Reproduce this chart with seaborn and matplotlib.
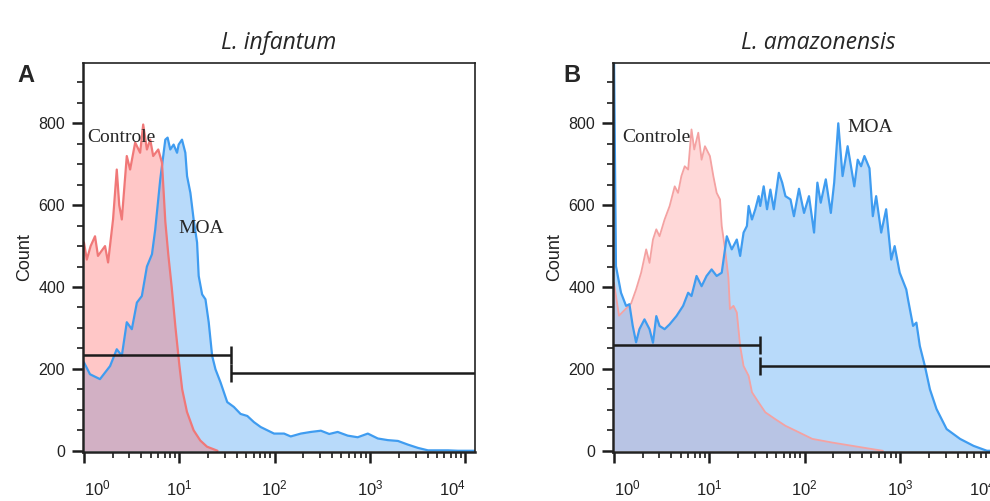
import numpy as np
import seaborn as sns
import matplotlib.pyplot as plt
from matplotlib.ticker import FixedLocator, LogLocator, MultipleLocator, NullFormatter

sns.set_style("ticks")
plt.rcParams['font.family'] = ['Liberation Sans', 'DejaVu Sans']
plt.rcParams['mathtext.default'] = 'regular'

# histograms: log10 of fluorescence intensity vs cell count
inf_ctrl_log = [0.0, 0.03, 0.07, 0.116, 0.147, 0.19, 0.221, 0.253, 0.305, 0.344, 0.37,
                0.397, 0.449, 0.484, 0.537, 0.589, 0.621, 0.66, 0.695, 0.726, 0.779,
                0.818, 0.853, 0.884, 0.92, 0.96, 1.0, 1.03, 1.08, 1.15, 1.22, 1.29, 1.4]
inf_ctrl_count = [509, 467, 500, 524, 476, 490, 500, 460, 565, 687, 600,
                  565, 720, 687, 753, 728, 797, 736, 760, 720, 736,
                  704, 560, 480, 400, 300, 210, 150, 95, 50, 25, 10, 0]

inf_moa_log = [0.0, 0.063, 0.168, 0.274, 0.344, 0.397, 0.449, 0.502, 0.555, 0.607,
               0.66, 0.713, 0.747, 0.8, 0.853, 0.877, 0.905, 0.94, 0.976, 0.993,
               1.028, 1.063, 1.081, 1.116, 1.15, 1.186, 1.203, 1.239, 1.274, 1.308,
               1.344, 1.379, 1.432, 1.502, 1.572, 1.642, 1.713, 1.782, 1.853, 1.993,
               2.098, 2.168, 2.274, 2.379, 2.484, 2.572, 2.66, 2.765, 2.87, 2.976,
               3.081, 3.186, 3.292, 3.397, 3.502, 3.607, 3.818, 3.923, 4.1]
inf_moa_count = [216, 187, 175, 207, 248, 232, 314, 297, 362, 378,
                 450, 480, 540, 663, 760, 765, 736, 748, 728, 748,
                 760, 728, 671, 630, 565, 509, 427, 382, 370, 314,
                 232, 199, 167, 119, 107, 90, 85, 70, 58, 42,
                 42, 35, 42, 46, 49, 41, 46, 37, 33, 42,
                 30, 26, 24, 15, 7, 1, 1, 0, 0]

amz_ctrl_log = [0.0, 0.053, 0.18, 0.232, 0.285, 0.338, 0.373, 0.409, 0.444, 0.478,
                0.531, 0.584, 0.637, 0.672, 0.707, 0.742, 0.778, 0.813, 0.842, 0.884,
                0.919, 0.954, 1.006, 1.042, 1.077, 1.112, 1.13, 1.165, 1.2, 1.216,
                1.253, 1.288, 1.323, 1.359, 1.412, 1.447, 1.517, 1.587, 1.693, 1.798,
                1.94, 2.08, 2.29, 2.5, 2.71, 2.82]
amz_ctrl_count = [410, 330, 360, 394, 435, 492, 459, 516, 541, 524,
                  565, 598, 646, 630, 671, 695, 687, 785, 736, 777,
                  711, 744, 720, 671, 630, 614, 549, 492, 423, 346,
                  354, 338, 256, 207, 183, 143, 118, 94, 77, 61,
                  45, 29, 20, 12, 4, 0]

amz_moa_log = [0.0, 0.021, 0.074, 0.127, 0.162, 0.197, 0.232, 0.267, 0.32, 0.373,
               0.409, 0.444, 0.478, 0.531, 0.584, 0.655, 0.725, 0.778, 0.813, 0.866,
               0.919, 0.971, 1.024, 1.077, 1.13, 1.183, 1.235, 1.288, 1.323, 1.359,
               1.394, 1.412, 1.447, 1.482, 1.517, 1.534, 1.57, 1.605, 1.64, 1.676,
               1.729, 1.764, 1.798, 1.851, 1.887, 1.94, 1.993, 2.045, 2.098, 2.133,
               2.168, 2.221, 2.274, 2.309, 2.352, 2.397, 2.45, 2.485, 2.52, 2.556,
               2.591, 2.626, 2.679, 2.714, 2.749, 2.802, 2.854, 2.907, 2.943, 2.996,
               3.065, 3.083, 3.136, 3.171, 3.207, 3.26, 3.313, 3.382, 3.488, 3.629,
               3.77, 3.91, 4.1]
amz_moa_count = [980, 451, 386, 354, 358, 305, 265, 297, 321, 297,
                 264, 329, 305, 297, 309, 329, 354, 386, 378, 427,
                 402, 427, 443, 427, 435, 524, 492, 516, 476, 533,
                 549, 598, 565, 590, 622, 598, 646, 590, 638, 590,
                 679, 655, 622, 614, 573, 640, 581, 622, 533, 655,
                 606, 663, 581, 655, 800, 671, 744, 695, 646, 711,
                 695, 720, 690, 573, 622, 533, 590, 467, 500, 435,
                 394, 370, 305, 313, 256, 207, 150, 102, 53, 29,
                 12, 0, 0]

# gates: split point on the x axis and the height of the two markers
inf_gate_split = 35
inf_gate_levels = [235, 189]
amz_gate_split = 34
amz_gate_levels = [258, 207]

decade_labels = ['$10^{0}$', '$10^{1}$', '$10^{2}$', '$10^{3}$', '$10^{4}$']

BLUE_LINE = '#3f9cf0'
BLUE_FILL = '#63adf4'
XMIN, XMAX = 10 ** -0.01, 10 ** 4.1


def draw_hist(ax, logs, counts, line_color, fill_color, alpha, lw=1.6):
    x = 10 ** np.array(logs)
    ax.fill_between(x, counts, 0, color=fill_color, alpha=alpha, lw=0)
    sns.lineplot(x=x, y=counts, ax=ax, color=line_color, lw=lw,
                 sort=False, estimator=None)


def draw_gates(ax, split, levels):
    kw = dict(color='#1c1c1c', lw=1.8)
    ax.hlines(levels[0], XMIN, split, **kw)
    ax.vlines(split, levels[0] - 22, levels[0] + 22, **kw)
    ax.hlines(levels[1], split, XMAX, **kw)
    ax.vlines(split, levels[1] - 22, levels[1] + 22, **kw)


def style_axes(ax):
    ax.set_xscale('log')
    ax.set_xlim(XMIN, XMAX)
    ax.set_ylim(-3, 948)
    ax.xaxis.set_major_locator(FixedLocator([1, 10, 100, 1000, 10000]))
    ax.xaxis.set_minor_locator(LogLocator(base=10, subs=range(2, 10)))
    ax.xaxis.set_minor_formatter(NullFormatter())
    ax.set_xticklabels(decade_labels)
    labels = ax.get_xticklabels()
    labels[0].set_ha('left')
    labels[-1].set_ha('right')
    ax.yaxis.set_major_locator(MultipleLocator(200))
    ax.yaxis.set_minor_locator(MultipleLocator(50))
    ax.tick_params(axis='both', which='major', length=8, width=1.8,
                   labelsize=11.5, color='#1c1c1c', labelcolor='#222222')
    ax.tick_params(axis='both', which='minor', length=4.5, width=1.2, color='#1c1c1c')
    ax.tick_params(axis='x', which='major', pad=11, labelsize=12)
    ax.tick_params(axis='y', which='major', pad=5)
    for side in ['top', 'right', 'left', 'bottom']:
        ax.spines[side].set_visible(True)
        ax.spines[side].set_linewidth(1.2)
        ax.spines[side].set_color('#222222')
    ax.spines['left'].set_linewidth(1.8)
    ax.spines['bottom'].set_linewidth(1.8)
    ax.set_xlabel('')
    ax.set_ylabel('Count', fontsize=13, labelpad=4, color='#222222')


fig = plt.figure(figsize=(9.9, 5.01), dpi=100)
ax1 = fig.add_axes([83 / 990, 49 / 501, 392 / 990, 389.3 / 501])
ax2 = fig.add_axes([613 / 990, 49 / 501, 392 / 990, 389.3 / 501])

# L. infantum: control drawn over MOA
draw_hist(ax1, inf_moa_log, inf_moa_count, BLUE_LINE, BLUE_FILL, 0.45)
draw_hist(ax1, inf_ctrl_log, inf_ctrl_count, '#f07878', '#ff6e6e', 0.38)
draw_gates(ax1, inf_gate_split, inf_gate_levels)
style_axes(ax1)
ax1.text(10 ** 0.032, 754, 'Controle', family='Liberation Serif', fontsize=14)
ax1.text(10 ** 0.993, 533, 'MOA', family='Liberation Serif', fontsize=14)
ax1.set_title('L. infantum', family='Open Sans', style='italic', fontsize=16.5,
              pad=10)

# L. amazonensis: MOA drawn over a paler control
draw_hist(ax2, amz_ctrl_log, amz_ctrl_count, '#f4a2a2', '#ff8080', 0.3, lw=1.3)
draw_hist(ax2, amz_moa_log, amz_moa_count, BLUE_LINE, BLUE_FILL, 0.45)
draw_gates(ax2, amz_gate_split, amz_gate_levels)
style_axes(ax2)
ax2.text(10 ** 0.092, 755, 'Controle', family='Liberation Serif', fontsize=14)
ax2.text(10 ** 2.45, 778, 'MOA', family='Liberation Serif', fontsize=14)
ax2.set_title('L. amazonensis', family='Open Sans', style='italic', fontsize=16.5,
              pad=10, x=0.523)

fig.text(26 / 990, 1 - 75.5 / 501, 'A', fontsize=17, fontweight='bold',
         ha='center', va='center')
fig.text(572 / 990, 1 - 75.5 / 501, 'B', fontsize=17, fontweight='bold',
         ha='center', va='center')

fig.savefig('out.png', dpi=100)
